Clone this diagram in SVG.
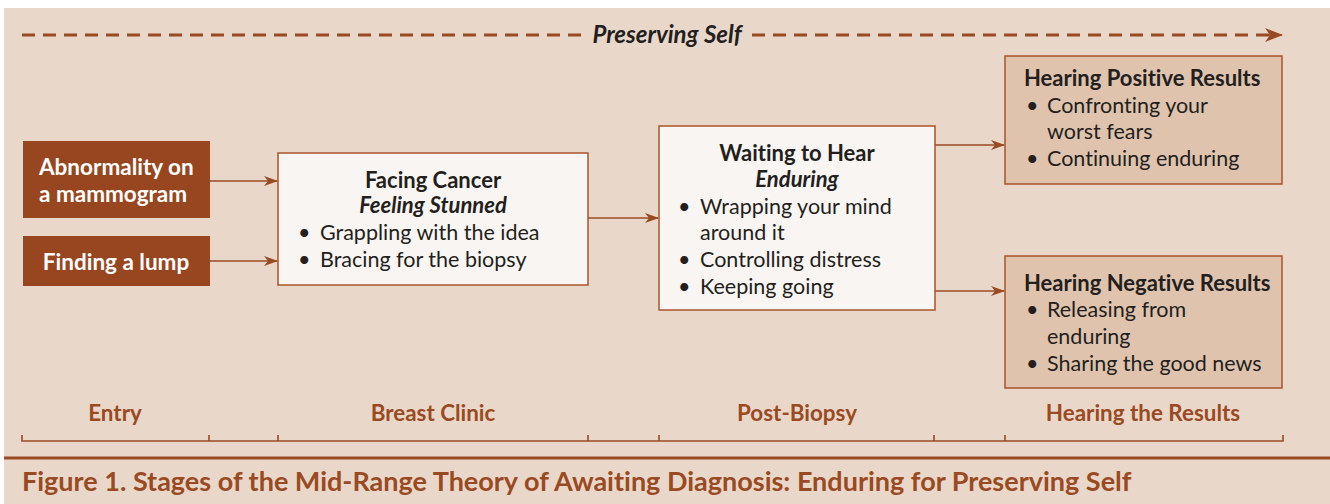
<svg xmlns="http://www.w3.org/2000/svg" width="1330" height="504" viewBox="0 0 1330 504">
<defs>
<marker id="ah" markerWidth="14" markerHeight="10" refX="13" refY="5" orient="auto" markerUnits="userSpaceOnUse">
<path d="M0,0 L14,5 L0,10 L4,5 Z" fill="#9a4a22"/>
</marker>
<marker id="ahb" markerWidth="18" markerHeight="14" refX="17" refY="7" orient="auto" markerUnits="userSpaceOnUse">
<path d="M0,0 L18,7 L0,14 L5,7 Z" fill="#9a4a22"/>
</marker>
<style>
text{font-variant-ligatures:none}
.bg{fill:#e9d8ca}
.entry{fill:#97461f}
.wbox{fill:#f9f5f2;stroke:#a9532a;stroke-width:1.5}
.rbox{fill:#dfc3ad;stroke:#a9532a;stroke-width:1.5}
.conn{stroke:#9a4a22;stroke-width:1.6;fill:none}
.dash{stroke:#9a4a22;stroke-width:3;fill:none;stroke-dasharray:13,8}
.t{font-family:Lato,"Open Sans",sans-serif;font-size:21.5px;fill:#231f20}
.b{font-weight:bold;font-size:22px}
.i{font-style:italic}
.w{fill:#ffffff;font-weight:bold;font-size:22.5px}
.ax{font-family:Lato,"Open Sans",sans-serif;font-size:22.4px;font-weight:bold;fill:#9a4a22}
.cap{font-family:Lato,"Open Sans",sans-serif;font-size:27px;font-weight:bold;fill:#9a4a22}
</style>
</defs>
<rect x="0" y="0" width="1330" height="504" fill="#ffffff"/>
<rect class="bg" x="4" y="8" width="1326" height="496"/>

<g id="connectors">
<line class="dash" x1="22" y1="35" x2="582" y2="35"/>
<line class="dash" x1="752" y1="35" x2="1270" y2="35"/>
<line class="conn" x1="1266" y1="35" x2="1282" y2="35" marker-end="url(#ahb)"/>
<line class="conn" x1="210" y1="181" x2="277" y2="181" marker-end="url(#ah)"/>
<line class="conn" x1="210" y1="261" x2="277" y2="261" marker-end="url(#ah)"/>
<line class="conn" x1="588" y1="218" x2="658" y2="218" marker-end="url(#ah)"/>
<line class="conn" x1="935" y1="145" x2="1004" y2="145" marker-end="url(#ah)"/>
<line class="conn" x1="935" y1="291" x2="1004" y2="291" marker-end="url(#ah)"/>
</g>

<g id="preserving-self">
<text class="t b i" x="667" y="43" text-anchor="middle" style="font-size:24px">Preserving Self</text>
</g>

<g id="entry-abnormality">
<rect class="entry" x="23" y="141" width="187" height="77"/>
<text class="t w" x="39" y="175">Abnormality on</text>
<text class="t w" x="39" y="202">a mammogram</text>
</g>

<g id="entry-lump">
<rect class="entry" x="23" y="236" width="187" height="50"/>
<text class="t w" x="116" y="270" text-anchor="middle">Finding a lump</text>
</g>

<g id="facing-cancer">
<rect class="wbox" x="278" y="153" width="310" height="132"/>
<text class="t b" x="433" y="188" text-anchor="middle">Facing Cancer</text>
<text class="t b i" x="433" y="213" text-anchor="middle">Feeling Stunned</text>
<text class="t" x="298" y="240">•</text><text class="t" x="320" y="240">Grappling with the idea</text>
<text class="t" x="298" y="267">•</text><text class="t" x="320" y="267">Bracing for the biopsy</text>
</g>

<g id="waiting-to-hear">
<rect class="wbox" x="659" y="126" width="276" height="184"/>
<text class="t b" x="797" y="161" text-anchor="middle">Waiting to Hear</text>
<text class="t b i" x="797" y="187" text-anchor="middle">Enduring</text>
<text class="t" x="678" y="214">•</text><text class="t" x="700" y="214">Wrapping your mind</text>
<text class="t" x="700" y="240">around it</text>
<text class="t" x="678" y="267">•</text><text class="t" x="700" y="267">Controlling distress</text>
<text class="t" x="678" y="294">•</text><text class="t" x="700" y="294">Keeping going</text>
</g>

<g id="hearing-positive">
<rect class="rbox" x="1005" y="56" width="277" height="128"/>
<text class="t b" x="1024" y="86">Hearing Positive Results</text>
<text class="t" x="1026" y="113">•</text><text class="t" x="1047" y="113">Confronting your</text>
<text class="t" x="1047" y="139">worst fears</text>
<text class="t" x="1026" y="166">•</text><text class="t" x="1047" y="166">Continuing enduring</text>
</g>

<g id="hearing-negative">
<rect class="rbox" x="1005" y="256" width="277" height="132"/>
<text class="t b" x="1024" y="291">Hearing Negative Results</text>
<text class="t" x="1026" y="317">•</text><text class="t" x="1047" y="317">Releasing from</text>
<text class="t" x="1047" y="344">enduring</text>
<text class="t" x="1026" y="371">•</text><text class="t" x="1047" y="371">Sharing the good news</text>
</g>

<g id="axis">
<polyline class="conn" points="22,435 22,441 1283,441 1283,435"/>
<line class="conn" x1="209" y1="435" x2="209" y2="441"/>
<line class="conn" x1="278" y1="435" x2="278" y2="441"/>
<line class="conn" x1="588" y1="435" x2="588" y2="441"/>
<line class="conn" x1="659" y1="435" x2="659" y2="441"/>
<line class="conn" x1="934" y1="435" x2="934" y2="441"/>
<line class="conn" x1="1005" y1="435" x2="1005" y2="441"/>
<text class="ax" x="115" y="421" text-anchor="middle">Entry</text>
<text class="ax" x="433" y="421" text-anchor="middle">Breast Clinic</text>
<text class="ax" x="797" y="421" text-anchor="middle">Post-Biopsy</text>
<text class="ax" x="1143" y="421" text-anchor="middle">Hearing the Results</text>
</g>

<g id="caption">
<line x1="4" y1="458" x2="1330" y2="458" stroke="#9a4a22" stroke-width="3"/>
<text class="cap" x="22" y="491">Figure 1. Stages of the Mid-Range Theory of Awaiting Diagnosis: Enduring for Preserving Self</text>
</g>
</svg>
